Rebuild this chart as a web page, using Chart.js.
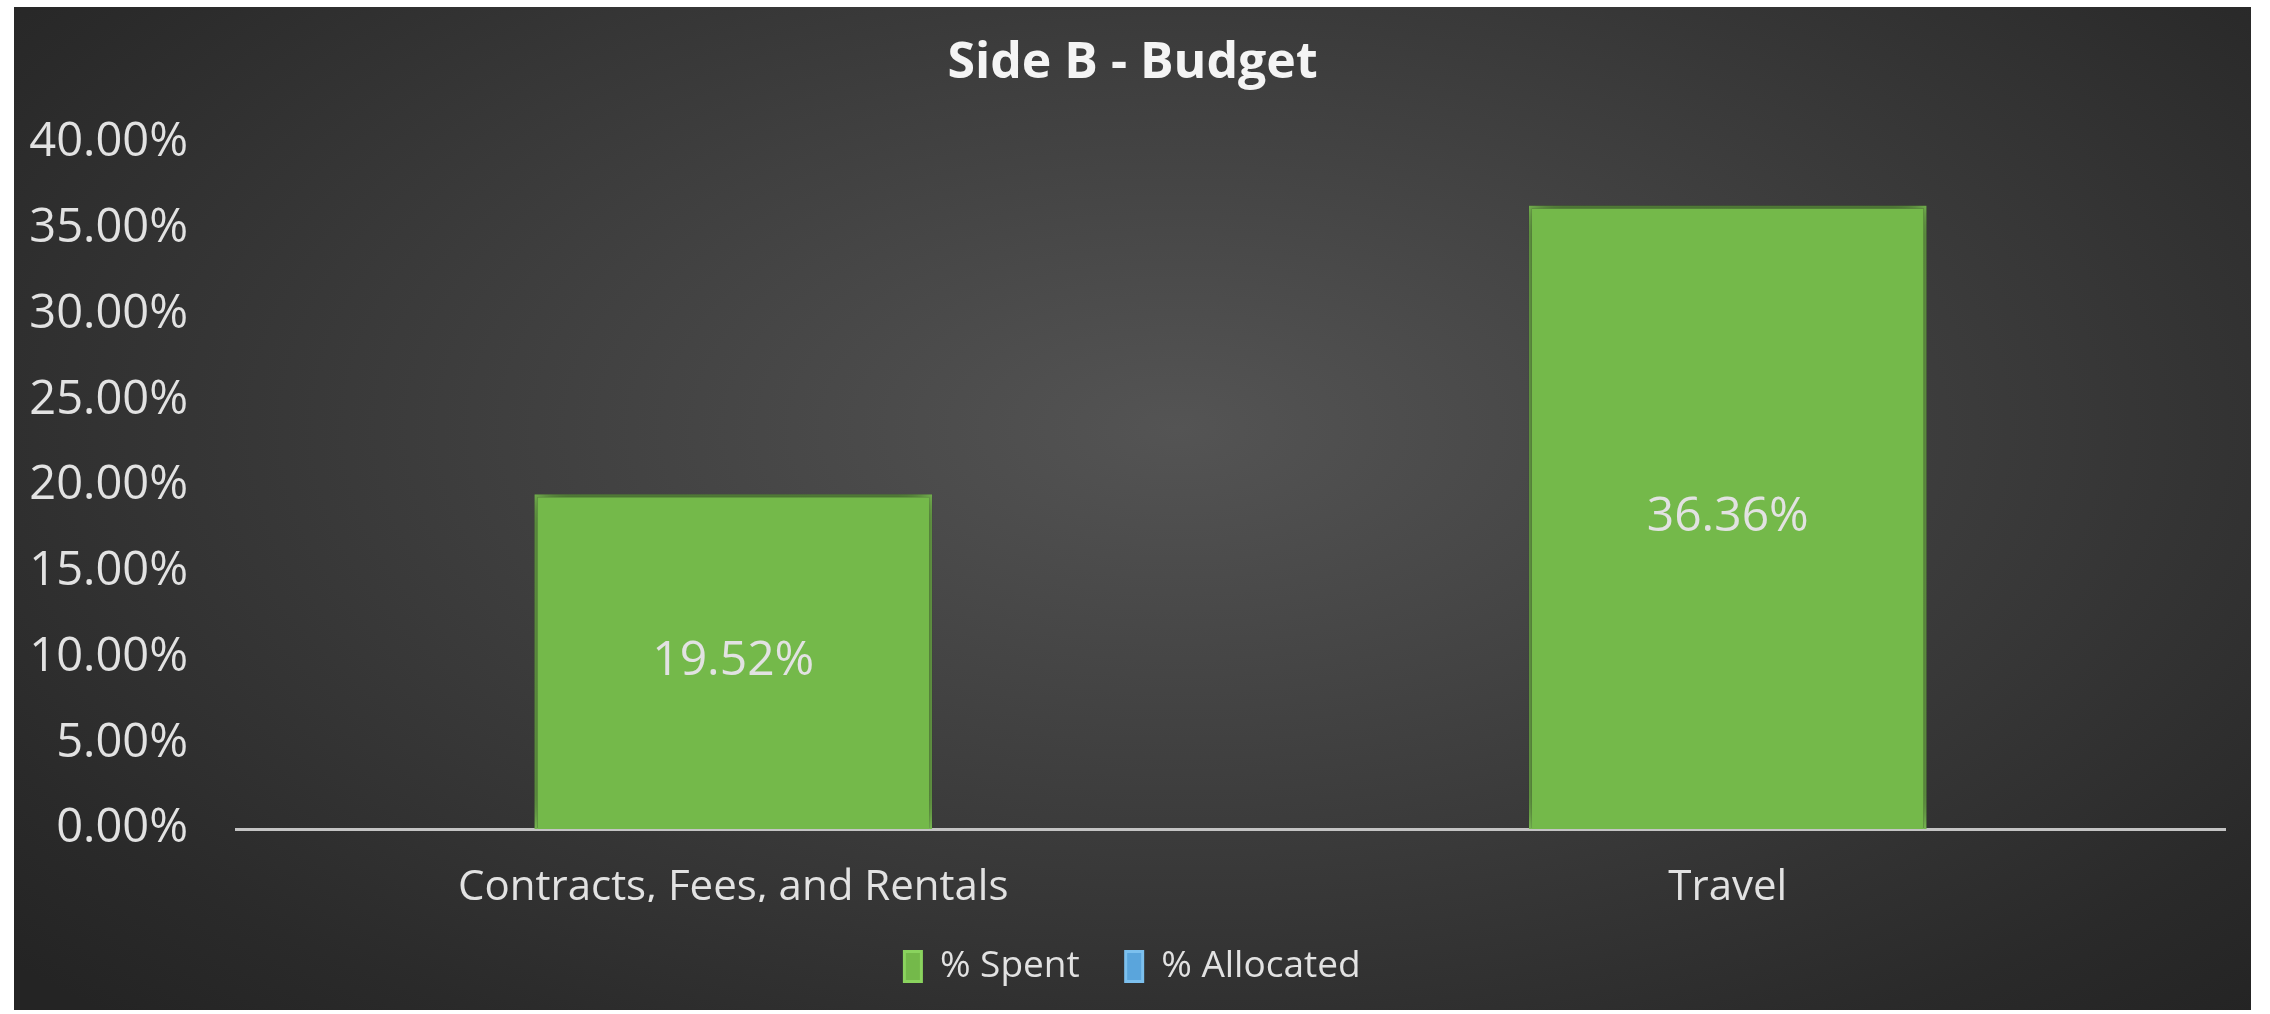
<!DOCTYPE html>
<html>
<head>
<meta charset="utf-8">
<script src="https://cdn.jsdelivr.net/npm/chart.js@4.4.1/dist/chart.umd.min.js"></script>
<style>
  html, body { margin: 0; padding: 0; background: #ffffff; }
  #frame {
    position: absolute; left: 14px; top: 7px; width: 2237px; height: 1003px;
    background: radial-gradient(ellipse 70% 80% at 52% 42%, #545454 0%, #3e3e3e 45%, #2a2a2a 85%, #242424 100%);
  }
  canvas { display: block; }
</style>
</head>
<body>
<div id="frame"><canvas id="budgetChart" width="2237" height="1003"></canvas></div>
<script>
// ================= DATA =================
const categories = ["Contracts, Fees, and Rentals", "Travel"];
const spent = [19.52, 36.36];
const allocated = [null, null];
const seriesNames = ["% Spent", "% Allocated"];
const yMax = 40, yStep = 5;

const FONT = "'Open Sans', 'Noto Sans', sans-serif";
const TEXT = "#e2e2e2";

// ================= PLUGINS =================
const barShadow = {
    id: "barShadow",
    beforeDatasetsDraw(chart) {
        const ctx = chart.ctx;
        ctx.save();
        ctx.shadowColor = "rgba(0,0,0,0.75)";
        ctx.shadowBlur = 28;
        ctx.shadowOffsetX = 0;
        ctx.shadowOffsetY = -4;
    },
    afterDatasetsDraw(chart) {
        chart.ctx.restore();
    }
};

const valueLabels = {
    id: "valueLabels",
    afterDatasetsDraw(chart) {
        const ctx = chart.ctx;
        const meta = chart.getDatasetMeta(0);
        ctx.save();
        ctx.font = "48px " + FONT;
        ctx.fillStyle = TEXT;
        ctx.textAlign = "center";
        ctx.textBaseline = "middle";
        meta.data.forEach((bar, i) => {
            const v = spent[i];
            if (v == null) return;
            ctx.fillText(v.toFixed(2) + "%", bar.x, (bar.y + bar.base) / 2);
        });
        ctx.restore();
    }
};

// ================= CHART =================
new Chart(document.getElementById("budgetChart"), {
    type: "bar",
    data: {
        labels: categories,
        datasets: [
            {
                label: seriesNames[0], data: spent,
                backgroundColor: "#74b94a", borderColor: "#8ad35e", borderWidth: 3,
                categoryPercentage: 1, barPercentage: 0.4
            },
            {
                label: seriesNames[1], data: allocated,
                backgroundColor: "#5aa5dc", borderColor: "#7cc0ee", borderWidth: 3,
                categoryPercentage: 1, barPercentage: 0.4
            }
        ]
    },
    options: {
        responsive: false,
        animation: false,
        grouped: false,
        layout: { padding: { left: 0, right: 0, top: 0, bottom: 15 } },
        plugins: {
            title: {
                display: true, text: "Side B - Budget", color: "#f4f4f4",
                font: { family: FONT, size: 50, weight: "bold" },
                padding: { top: 27, bottom: 49 }
            },
            legend: {
                position: "bottom",
                labels: {
                    color: TEXT, font: { family: FONT, size: 37 },
                    boxWidth: 17, boxHeight: 30, padding: 46
                }
            },
            tooltip: { enabled: false }
        },
        scales: {
            x: {
                grid: { display: false, drawTicks: false },
                border: { display: true, color: "#c4c4c4", width: 3 },
                ticks: { color: TEXT, font: { family: FONT, size: 42 }, padding: 34, maxRotation: 0 },
                afterFit(scale) { scale.height = 73; }
            },
            y: {
                min: 0, max: yMax,
                grid: { display: false, drawTicks: false },
                border: { display: false },
                ticks: {
                    stepSize: yStep, color: TEXT, padding: 48,
                    font: { family: FONT, size: 47 },
                    callback: v => v.toFixed(2) + "%"
                },
                afterFit(scale) { scale.width = 222; }
            },
            // empty right-hand gutter so the title and legend stay centred on the frame
            gutter: {
                type: "linear", position: "right",
                grid: { display: false, drawTicks: false },
                border: { display: false },
                ticks: { display: false },
                afterFit(scale) { scale.width = 26; }
            }
        }
    },
    plugins: [barShadow, valueLabels]
});
</script>
</body>
</html>
